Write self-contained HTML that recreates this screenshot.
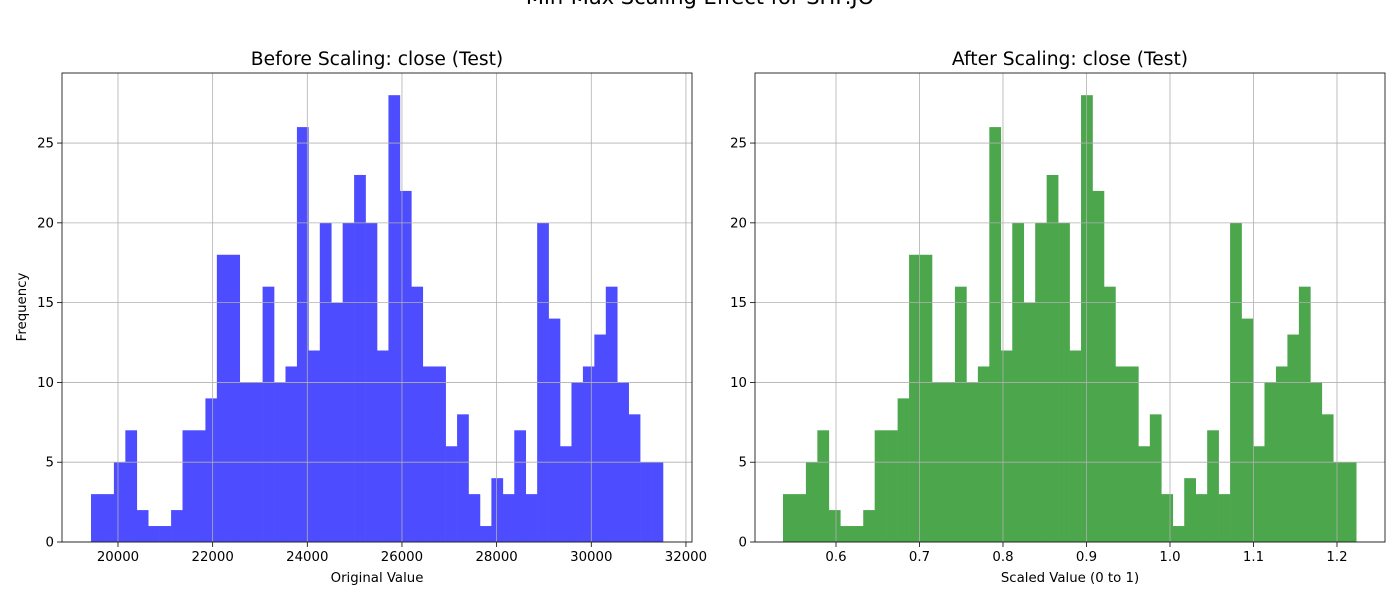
<!DOCTYPE html>
<html><head><meta charset="utf-8"><style>
body{margin:0;background:#fff;}
svg{display:block;font-family:"DejaVu Sans","Liberation Sans",sans-serif;}
</style></head><body>
<svg id="chart" width="1400" height="600">
<text x="700" y="4" text-anchor="middle" font-size="21">Min-Max Scaling Effect for SHP.JO</text>
</svg>
<script>
const counts=[3,3,5,7,2,1,1,2,7,7,9,18,18,10,10,16,10,11,26,12,20,15,20,23,20,12,28,22,16,11,11,6,8,3,1,4,3,7,3,20,14,6,10,11,13,16,10,8,5,5];
const leftRange=[19430,31515];
const rightRange=[0.5365,1.223];
const yTicks=[0,5,10,15,20,25];
const leftXTicks=[20000,22000,24000,26000,28000,30000,32000];
const rightXTicks=[0.6,0.7,0.8,0.9,1.0,1.1,1.2];
const rightXLabels=["0.6","0.7","0.8","0.9","1.0","1.1","1.2"];
const NS="http://www.w3.org/2000/svg";
const svg=document.getElementById('chart');
function mk(t,a,p){const e=document.createElementNS(NS,t);for(const k in a)e.setAttribute(k,a[k]);(p||svg).appendChild(e);return e;}
function panel(o){
  const g=mk('g',{});
  
  
  const x0=o.px0,x1=o.px1,y0=73,y1=542;
  const sx=v=>x0+(v-o.xlim[0])/(o.xlim[1]-o.xlim[0])*(x1-x0);
  const sy=v=>y1-v/29.39*(y1-y0);
  const bw=(o.range[1]-o.range[0])/counts.length;
  counts.forEach((c,i)=>{
    const a=sx(o.range[0]+i*bw),b=sx(o.range[0]+(i+1)*bw);
    const r=mk('rect',{x:a,y:sy(c),width:b-a+0.3,height:y1-sy(c),fill:o.color},g);
    
    
  });
  o.xticks.forEach((t,i)=>{
    const x=sx(t);
    mk('line',{x1:x,x2:x,y1:y0,y2:y1,stroke:'#b0b0b0','stroke-width':0.8},g);
    mk('line',{x1:x,x2:x,y1:y1,y2:y1+5,stroke:'#000','stroke-width':0.8},g);
    const tx=mk('text',{x:x,y:y1+19,'text-anchor':'middle','font-size':13.3},g);
    tx.textContent=o.xlabels[i];
    
    
  });
  yTicks.forEach(t=>{
    const y=sy(t);
    mk('line',{x1:x0,x2:x1,y1:y,y2:y,stroke:'#b0b0b0','stroke-width':0.8},g);
    mk('line',{x1:x0-5,x2:x0,y1:y,y2:y,stroke:'#000','stroke-width':0.8},g);
    const tx=mk('text',{x:x0-8,y:y+4.5,'text-anchor':'end','font-size':13.3},g);
    tx.textContent=t;
    
    
  });
  mk('rect',{x:x0,y:y0,width:x1-x0,height:y1-y0,fill:'none',stroke:'#000','stroke-width':0.8},g);
  const tt=mk('text',{x:(x0+x1)/2,y:65,'text-anchor':'middle','font-size':18.7},g);
  tt.textContent=o.title;
  
  
  const xl=mk('text',{x:(x0+x1)/2,y:582,'text-anchor':'middle','font-size':13.3},g);
  xl.textContent=o.xtitle;
  
  
}
panel({name:'before-panel',px0:62,px1:692,xlim:[18817,32128],range:leftRange,color:'#4d4dff',xticks:leftXTicks,xlabels:leftXTicks.map(String),title:'Before Scaling: close (Test)',xtitle:'Original Value'});
panel({name:'after-panel',px0:755,px1:1385,xlim:[0.503,1.2575],range:rightRange,color:'#4ca64c',xticks:rightXTicks,xlabels:rightXLabels,title:'After Scaling: close (Test)',xtitle:'Scaled Value (0 to 1)'});
const yl=mk('text',{x:0,y:0,'text-anchor':'middle','font-size':13.3,transform:'translate(26,307) rotate(-90)'});
yl.textContent='Frequency';


</script>
</body></html>
